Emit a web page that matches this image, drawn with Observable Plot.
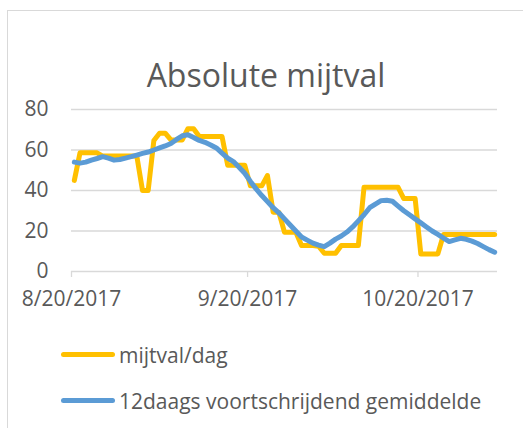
<!DOCTYPE html>
<html>
<head>
<meta charset="utf-8">
<script src="https://cdn.jsdelivr.net/npm/d3@7"></script>
<script src="https://cdn.jsdelivr.net/npm/@observablehq/plot@0.6"></script>
<style>
  html, body { margin: 0; padding: 0; background: #fff; }
  body { width: 523px; height: 428px; position: relative; overflow: hidden; font-family: "Open Sans", Lato, sans-serif; color: #595959; }
  #frame { position: absolute; left: 7px; top: 10px; width: 560px; height: 460px; border: 1.3px solid #d9d9d9; box-sizing: border-box; }
  #title { position: absolute; left: 0; width: 532px; top: 60px; text-align: center; font-size: 32px; line-height: 29px; }
  #chart { position: absolute; left: 0; top: 90px; }
  .sw { position: absolute; left: 61px; width: 54px; height: 5px; border-radius: 2.5px; }
  .lt { position: absolute; left: 119px; font-size: 21px; line-height: 20px; white-space: nowrap; }
</style>
</head>
<body>
<div id="frame"></div>
<div id="title">Absolute mijtval</div>
<div id="chart"></div>
<div class="sw" style="top:351.5px;background:#FFC000"></div>
<div class="lt" id="l1" style="top:345px"></div>
<div class="sw" style="top:397.5px;background:#5B9BD5"></div>
<div class="lt" id="l2" style="top:391px"></div>
<script>
// ---- data ----
const startDate = "2017-08-20";
const axisEndDate = "2017-11-03";
const seriesNames = ["mijtval/dag", "12daags voortschrijdend gemiddelde"];
const seriesColors = ["#FFC000", "#5B9BD5"];
const xTicks = ["2017-08-20", "2017-09-20", "2017-10-20"];
const yTicks = [0, 20, 40, 60, 80];
// daily values (one per day from 8/20/2017)
const mijtval = [
  45, 58.6, 58.6, 58.6, 58.6, 57, 57, 57, 57, 57,
  57, 57, 40, 40, 64.7, 68.3, 68.3, 65, 65, 65,
  70.5, 70.5, 66.7, 66.7, 66.7, 66.7, 66.7, 52.5, 52.5, 52.5,
  52.5, 42.3, 42.3, 42.3, 47.4, 29.3, 29.3, 19.4, 19.4, 19.4,
  12.8, 12.8, 12.8, 12.5, 9, 9, 9, 12.8, 12.8, 12.8,
  12.8, 41.6, 41.6, 41.6, 41.6, 41.6, 41.6, 41.6, 36, 36,
  36, 8.7, 8.7, 8.7, 8.7, 18.3, 18.3, 18.3, 18.3, 18.3,
  18.3, 18.3, 18.3, 18.3, 18.3
];
const gemiddelde = [
  54, 53.5, 54, 55, 55.8, 56.7, 56, 55, 55.3, 56,
  56.7, 57.5, 58.3, 59, 60, 61, 62, 63.2, 65.2, 67,
  67.5, 66.2, 64.7, 63.8, 62.5, 61, 58.5, 56, 54.3, 51.5,
  48.5, 44.5, 40.8, 37.5, 34.5, 31.5, 29, 26, 23, 20,
  17, 15.5, 14, 13, 12.3, 14, 16, 17.5, 19.5, 22,
  25, 28, 31.5, 33.3, 35, 35.2, 34.7, 32.3, 30, 28,
  26, 24, 22, 20, 18.3, 16.5, 14.8, 15.6, 16.4, 15.9,
  15, 13.8, 12.3, 10.8, 9.5
];

// ---- build ----
const parse = d3.utcParse("%Y-%m-%d");
const t0 = parse(startDate);
// Excel date axis "between tick marks": each day's point sits mid-day
const dayDate = (i) => d3.utcHour.offset(d3.utcDay.offset(t0, i), 12);
const rows = mijtval.map((v, i) => ({date: dayDate(i), mijtval: v, gem: gemiddelde[i]}));
const fmt = d3.utcFormat("%-m/%-d/%Y");

const plot = Plot.plot({
  width: 523,
  height: 230,
  marginLeft: 71,
  marginRight: 26,
  marginTop: 19,
  marginBottom: 49,
  style: {fontFamily: "'Open Sans', Lato, sans-serif", fontSize: "21px", color: "#595959", background: "transparent", overflow: "visible"},
  x: {type: "utc", domain: [t0, parse(axisEndDate)]},
  y: {domain: [0, 80]},
  marks: [
    Plot.gridY(yTicks.filter(d => d > 0), {stroke: "#d9d9d9", strokeOpacity: 1, strokeWidth: 1.3}),
    Plot.ruleY([0], {stroke: "#d9d9d9", strokeWidth: 1.3}),
    Plot.axisX(xTicks.map(parse), {tickFormat: fmt, tickSize: 6, tickPadding: 14, stroke: "#d9d9d9", strokeWidth: 1.3, fontSize: 21}),
    Plot.axisY(yTicks, {tickSize: 0, tickPadding: 23, fontSize: 21}),
    Plot.line(rows, {x: "date", y: "mijtval", stroke: seriesColors[0], strokeWidth: 5, strokeLinejoin: "round", strokeLinecap: "round"}),
    Plot.line(rows, {x: "date", y: "gem", stroke: seriesColors[1], strokeWidth: 5, strokeLinejoin: "round", strokeLinecap: "round"})
  ]
});
document.getElementById("chart").appendChild(plot);
document.getElementById("l1").textContent = seriesNames[0];
document.getElementById("l2").textContent = seriesNames[1];
</script>
</body>
</html>
